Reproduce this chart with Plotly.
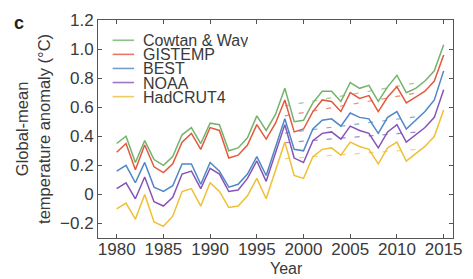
import numpy as np
import plotly.graph_objects as go

# ---------------- data ----------------
years = list(range(1980, 2016))

cowtan_way = [0.35, 0.40, 0.22, 0.37, 0.24, 0.20, 0.26, 0.41, 0.46, 0.35,
              0.49, 0.48, 0.30, 0.32, 0.39, 0.54, 0.44, 0.55, 0.73, 0.50,
              0.51, 0.63, 0.71, 0.71, 0.64, 0.77, 0.73, 0.75, 0.64, 0.74,
              0.82, 0.70, 0.73, 0.78, 0.85, 1.03]

gistemp = [0.29, 0.35, 0.17, 0.34, 0.19, 0.15, 0.21, 0.36, 0.42, 0.31,
           0.46, 0.44, 0.25, 0.27, 0.34, 0.48, 0.38, 0.49, 0.65, 0.43,
           0.45, 0.57, 0.65, 0.64, 0.57, 0.70, 0.66, 0.68, 0.57, 0.67,
           0.74, 0.63, 0.67, 0.71, 0.78, 0.96]

best = [0.16, 0.20, 0.08, 0.22, 0.05, 0.02, 0.06, 0.21, 0.21, 0.07,
        0.22, 0.16, 0.05, 0.07, 0.14, 0.26, 0.13, 0.33, 0.52, 0.31,
        0.30, 0.45, 0.51, 0.52, 0.47, 0.56, 0.53, 0.52, 0.42, 0.53,
        0.57, 0.45, 0.51, 0.57, 0.65, 0.85]

noaa = [0.04, 0.08, -0.03, 0.12, -0.05, -0.08, -0.02, 0.14, 0.16, 0.04,
        0.18, 0.14, 0.02, 0.03, 0.11, 0.23, 0.09, 0.29, 0.48, 0.25,
        0.22, 0.37, 0.42, 0.43, 0.38, 0.47, 0.44, 0.42, 0.32, 0.43,
        0.48, 0.36, 0.41, 0.46, 0.53, 0.72]

hadcrut4 = [-0.10, -0.06, -0.17, 0.00, -0.19, -0.22, -0.15, 0.02, 0.04, -0.08,
            0.08, 0.02, -0.09, -0.08, -0.01, 0.11, -0.03, 0.17, 0.36, 0.13,
            0.11, 0.26, 0.31, 0.32, 0.27, 0.36, 0.33, 0.31, 0.21, 0.32,
            0.36, 0.23, 0.28, 0.33, 0.40, 0.58]

series_names = ["Cowtan & Way", "GISTEMP", "BEST", "NOAA", "HadCRUT4"]
series_values = [cowtan_way, gistemp, best, noaa, hadcrut4]
trend_start, trend_end = 1998, 2012

x_tick_vals = [1980, 1985, 1990, 1995, 2000, 2005, 2010, 2015]
y_tick_vals = [-0.2, 0, 0.2, 0.4, 0.6, 0.8, 1.0, 1.2]
y_tick_text = ["\u22120.2", "0", "0.2", "0.4", "0.6", "0.8", "1.0", "1.2"]

# ---------------- styling ----------------
colors = ["#74b36b", "#e4583e", "#4f87c7", "#8654b8", "#efbf35"]
W, H = 473, 279
# plot area on screen: left 98, right 462, top 17.5, bottom 238
ML, MR, MT, MB = 98, W - 462, 17.5, H - 238
PW, PH = W - ML - MR, H - MT - MB
FONT = "Liberation Sans, Arial, Helvetica, sans-serif"
TXT = "#3a3a3a"


def px(x, y):
    """screen pixel position -> paper coordinates"""
    return (x - ML) / PW, (H - MB - y) / PH


fig = go.Figure()
yrs = np.array(years)
for name, vals, col in zip(series_names, series_values, colors):
    v = np.array(vals)
    fig.add_trace(go.Scatter(x=years, y=vals, mode="lines", name=name,
                             line=dict(color=col, width=1.5),
                             showlegend=False))
    m = (yrs >= trend_start) & (yrs <= trend_end)
    k, b = np.polyfit(yrs[m], v[m], 1)
    tx = [trend_start, trend_end]
    fig.add_trace(go.Scatter(x=tx, y=[k * t + b for t in tx], mode="lines",
                             line=dict(color=col, width=1.2, dash="5px,9px"),
                             opacity=0.7, showlegend=False, hoverinfo="skip"))

annotations = []
shapes = []
# legend drawn as text + line samples
for i, (name, col) in enumerate(zip(series_names, colors)):
    yc = 38 + 14.25 * i
    x0, y0 = px(113, yc)
    x1, _ = px(135, yc)
    shapes.append(dict(type="line", xref="paper", yref="paper",
                       x0=x0, x1=x1, y0=y0, y1=y0,
                       line=dict(color=col, width=1.6), opacity=0.8))
    tx_, ty_ = px(143, yc)
    annotations.append(dict(text=name, x=tx_, y=ty_, xref="paper", yref="paper",
                            xanchor="left", yanchor="middle", showarrow=False,
                            height=14, borderpad=0,
                            font=dict(family=FONT, size=16, color=TXT)))

cx, cy = px(17, 21)
annotations.append(dict(text="<b>c</b>", x=cx, y=cy, xref="paper", yref="paper",
                        xanchor="center", yanchor="middle", showarrow=False,
                        font=dict(family=FONT, size=18, color="#222")))
yx, yy = px(31, 128)
annotations.append(dict(text="Global-mean<br>temperature anomaly (\u00b0C)",
                        x=yx, y=yy, xref="paper", yref="paper", textangle=-90,
                        xanchor="center", yanchor="middle", showarrow=False,
                        font=dict(family=FONT, size=16.5, color=TXT)))
xx, xy = px(291, 269)
annotations.append(dict(text="Year", x=xx, y=xy, xref="paper", yref="paper",
                        xanchor="center", yanchor="middle", showarrow=False,
                        font=dict(family=FONT, size=16, color=TXT)))

axis_common = dict(showline=True, linecolor="#555", linewidth=1, mirror="ticks",
                   ticks="inside", ticklen=4, tickcolor="#555", showgrid=False,
                   zeroline=False, tickfont=dict(family=FONT, size=17, color=TXT))

fig.update_layout(
    width=W, height=H,
    margin=dict(l=ML, r=MR, t=MT, b=MB, pad=0),
    paper_bgcolor="white", plot_bgcolor="white",
    xaxis=dict(range=[1978, 2016], tickvals=x_tick_vals,
               ticklabelstandoff=-4, **axis_common),
    yaxis=dict(range=[-0.3, 1.2], tickvals=y_tick_vals, ticktext=y_tick_text,
               **axis_common),
    annotations=annotations, shapes=shapes, showlegend=False,
)

fig.write_html("out.html", config={"displayModeBar": False},
               post_script="document.body.style.margin='0';"
                           "document.body.style.overflow='hidden';")
